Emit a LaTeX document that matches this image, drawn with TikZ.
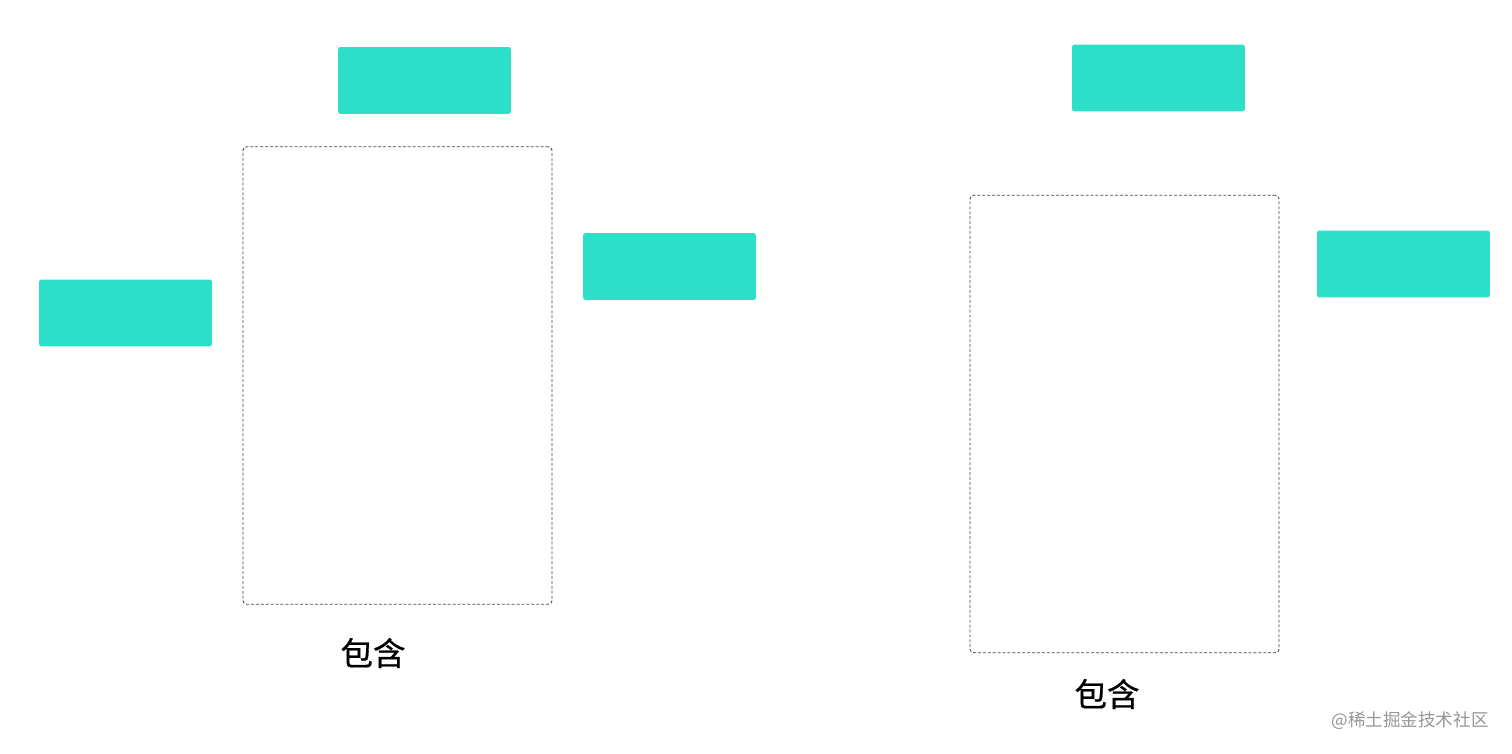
\documentclass[tikz,border=0pt]{standalone}
\usepackage{fontspec}
\newfontfamily\cjk{Noto Sans CJK SC}
\newfontfamily\cjkheavy{Noto Sans CJK SC}[FakeBold=0.6]
\usepackage{tikz}
\definecolor{teal1}{RGB}{45,223,200}
\definecolor{framegray}{RGB}{70,70,70}
\definecolor{markgray}{RGB}{150,150,150}
\tikzset{
	block/.style={draw=none,fill=teal1,rounded corners=1.5pt,inner sep=0pt,outer sep=0pt,
		minimum width=3.46cm,minimum height=1.34cm},
	frame/.style={draw=framegray,line width=.5pt,dash pattern=on 1.7pt off 1.1pt,
		rounded corners=2pt,inner sep=0pt,outer sep=0pt,
		minimum width=6.18cm,minimum height=9.15cm},
	caption/.style={font=\cjkheavy\fontsize{18.5pt}{20pt}\selectfont,text=black,inner sep=0pt},
	watermark/.style={font=\cjk\fontsize{10pt}{11pt}\selectfont,text=markgray,inner sep=0pt}
}
\begin{document}
\begin{tikzpicture}[x = {(0.02cm,0cm)},
                    y = {(0cm,-0.02cm)}]

\useasboundingbox (0,0) rectangle (1512,754);

% left group
\node[frame] (frameA) at (397.5,375.5) {};
\node[block] (topA) at (424.5,80.5) {};
\node[block] (leftA) at (125.5,313) {};
\node[block] (rightA) at (669.5,266.5) {};
\node[caption] (labelA) at (373,653) {包含};

% right group
\node[frame] (frameB) at (1124.5,424) {};
\node[block] (topB) at (1158.5,78) {};
\node[block] (rightB) at (1403.5,264) {};
\node[caption] (labelB) at (1107,694) {包含};

\node[watermark] (credit) at (1410,721) {@稀土掘金技术社区};

\end{tikzpicture}
\end{document}
